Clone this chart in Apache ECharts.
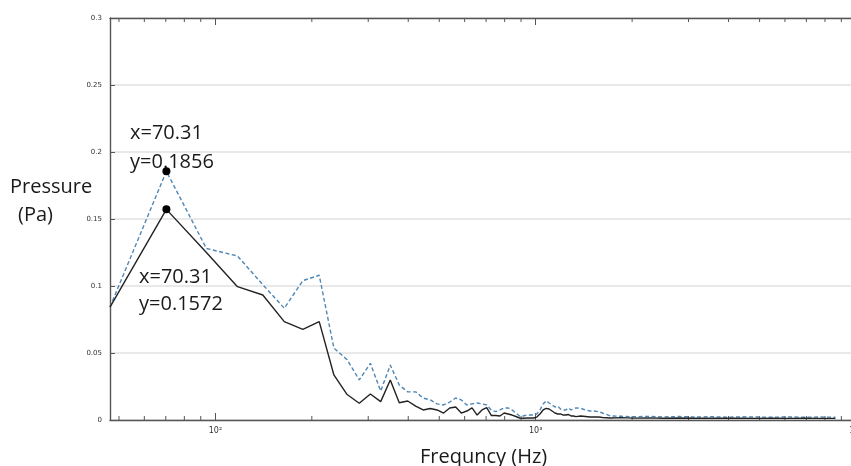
<!DOCTYPE html>
<html>
<head>
<meta charset="utf-8">
<title>Pressure spectrum</title>
<script src="https://cdn.jsdelivr.net/npm/echarts@6/dist/echarts.min.js"></script>
<style>
  html, body { margin: 0; padding: 0; background: #fff; }
  #chart { width: 851px; height: 466px; }
</style>
</head>
<body>
<div id="chart"></div>
<script>
// frequency bins (Hz)
var freqs = [46.875, 70.31, 93.75, 117.19, 140.63, 164.06, 187.5, 210.94, 234.38, 257.81,
  281.25, 304.69, 328.13, 351.56, 375, 398.44, 421.88, 445.31, 468.75, 492.19,
  515.63, 539.06, 562.5, 585.94, 609.38, 632.81, 656.25, 679.69, 703.13, 726.56,
  750, 773.44, 796.88, 820.31, 843.75, 867.19, 890.63, 914.06, 937.5, 960.94,
  984.38, 1007.81, 1031.25, 1054.69, 1078.13, 1101.56, 1125, 1148.44, 1171.88, 1195.31,
  1218.75, 1242.19, 1265.63, 1289.06, 1312.5, 1335.94, 1382.81, 1429.69, 1476.56, 1523.44,
  1570.31, 1617.19, 1710.94, 1851.56, 2015.63, 2250, 2507.81, 2812.5, 3140.63, 3515.63,
  3937.5, 4406.25, 4921.88, 5507.81, 6164.06, 6890.63, 7710.94, 8625, 9656.25, 10000];

// solid black curve (Pa)
var pressureA = [0.0843, 0.1572, 0.125, 0.0995, 0.0933, 0.0734, 0.0677, 0.0734, 0.0336, 0.019,
  0.0125, 0.0194, 0.0137, 0.0299, 0.0129, 0.0142, 0.0104, 0.0075, 0.0086, 0.0075,
  0.0052, 0.009, 0.0097, 0.0052, 0.0067, 0.009, 0.0037, 0.0075, 0.0093, 0.0034,
  0.0034, 0.003, 0.0052, 0.0045, 0.0037, 0.0026, 0.0015, 0.0013, 0.0015, 0.0015,
  0.0015, 0.0022, 0.0045, 0.0075, 0.0087, 0.0082, 0.0067, 0.0052, 0.0045, 0.0045,
  0.0037, 0.0037, 0.0041, 0.003, 0.003, 0.0025, 0.003, 0.0026, 0.0022, 0.0022,
  0.0022, 0.0019, 0.0015, 0.0018, 0.0014, 0.0016, 0.0013, 0.0015, 0.0013, 0.0014,
  0.0013, 0.0014, 0.0012, 0.0013, 0.0012, 0.0013, 0.0012, 0.0012];

// dashed blue curve (Pa)
var pressureB = [0.0843, 0.1856, 0.128, 0.1224, 0.101, 0.0834, 0.104, 0.108, 0.0537, 0.045,
  0.0299, 0.0423, 0.0216, 0.041, 0.0261, 0.021, 0.021, 0.0164, 0.015, 0.012,
  0.0112, 0.0134, 0.0164, 0.015, 0.0112, 0.012, 0.0127, 0.012, 0.0112, 0.0075,
  0.0062, 0.0075, 0.009, 0.009, 0.0075, 0.0052, 0.003, 0.003, 0.0037, 0.0037,
  0.0037, 0.0045, 0.0075, 0.012, 0.0144, 0.0127, 0.0112, 0.0097, 0.0104, 0.0082,
  0.0075, 0.0075, 0.009, 0.0075, 0.0082, 0.009, 0.0087, 0.0075, 0.0067, 0.0067,
  0.0062, 0.0052, 0.003, 0.0028, 0.0024, 0.0027, 0.0023, 0.0026, 0.0022, 0.0025,
  0.0021, 0.0024, 0.0022, 0.0021, 0.0023, 0.0021, 0.0022, 0.0021];

var minorTicks = [50, 60, 70, 80, 90, 200, 300, 400, 500, 600, 700, 800, 900,
  2000, 3000, 4000, 5000, 6000, 7000, 8000, 9000];

var supDigits = { '2': '\u00b2', '3': '\u00b3', '4': '\u2074' };

function pairs(ys) {
  return freqs.map(function (f, i) { return [f, ys[i]]; });
}

var chart = echarts.init(document.getElementById('chart'));

var axisLineStyle = { color: '#555', width: 1.4 };
var txt = { fontSize: 20, fontFamily: 'Open Sans', fill: '#1a1a1a', verticalAlign: 'middle' };

function label(text, x, y) {
  return { type: 'text', x: x, y: y, style: Object.assign({ text: text }, txt) };
}

chart.setOption({
  animation: false,
  backgroundColor: '#fff',
  grid: { left: 110, top: 18, right: -5, bottom: 46, outerBoundsMode: 'none' },
  xAxis: [
    {
      type: 'log', logBase: 10, min: 46.875, max: 10000,
      axisLine: { lineStyle: axisLineStyle },
      axisTick: { inside: true, length: 7, lineStyle: { color: '#555' } },
      axisLabel: {
        showMinLabel: false, margin: 7, fontSize: 8, color: '#333',
        fontFamily: 'DejaVu Sans',
        formatter: function (v) {
          var e = String(Math.round(Math.log10(v)));
          return '10' + (supDigits[e] || e);
        }
      },
      splitLine: { show: false }
    },
    {
      type: 'log', logBase: 10, min: 46.875, max: 10000, position: 'top',
      axisLine: { lineStyle: axisLineStyle },
      axisTick: { inside: true, length: 7, lineStyle: { color: '#555' } },
      axisLabel: { show: false },
      splitLine: { show: false }
    }
  ],
  yAxis: {
    type: 'value', min: 0, max: 0.3, interval: 0.05,
    axisLine: { show: true, lineStyle: axisLineStyle },
    axisTick: { show: true, inside: true, length: 5, lineStyle: { color: '#555' } },
    axisLabel: { fontSize: 7, color: '#333', margin: 8, fontFamily: 'DejaVu Sans' },
    splitLine: { show: true, lineStyle: { color: '#e2e2e2', width: 1.5 } }
  },
  graphic: [
    label('Pressure', 10, 187),
    label('(Pa)', 18, 215),
    label('Frequncy (Hz)', 420, 457),
    label('x=70.31', 130, 133),
    label('y=0.1856', 130, 162),
    label('x=70.31', 139, 277),
    label('y=0.1572', 139, 304)
  ],
  series: [
    {
      name: 'minor ticks',
      type: 'custom',
      clip: false,
      silent: true,
      data: minorTicks.map(function (v) { return [v]; }),
      renderItem: function (params, api) {
        var v = api.value(0);
        var b = api.coord([v, 0]);
        var t = api.coord([v, 0.3]);
        var st = { stroke: '#555', lineWidth: 1 };
        return {
          type: 'group',
          children: [
            { type: 'line', shape: { x1: b[0], y1: b[1], x2: b[0], y2: b[1] - 4 }, style: st },
            { type: 'line', shape: { x1: t[0], y1: t[1], x2: t[0], y2: t[1] + 4 }, style: st }
          ]
        };
      }
    },
    {
      name: 'dashed',
      type: 'line',
      clip: false,
      data: pairs(pressureB),
      showSymbol: false,
      lineStyle: { color: '#4f86b5', width: 1.4, type: [4, 2.5] },
      markPoint: {
        symbol: 'circle', symbolSize: 8,
        itemStyle: { color: '#000' },
        label: { show: false },
        data: [{ coord: [freqs[1], pressureB[1]] }]
      }
    },
    {
      name: 'solid',
      type: 'line',
      clip: false,
      data: pairs(pressureA),
      showSymbol: false,
      lineStyle: { color: '#222', width: 1.4 },
      markPoint: {
        symbol: 'circle', symbolSize: 8,
        itemStyle: { color: '#000' },
        label: { show: false },
        data: [{ coord: [freqs[1], pressureA[1]] }]
      }
    }
  ]
});
</script>
</body>
</html>
